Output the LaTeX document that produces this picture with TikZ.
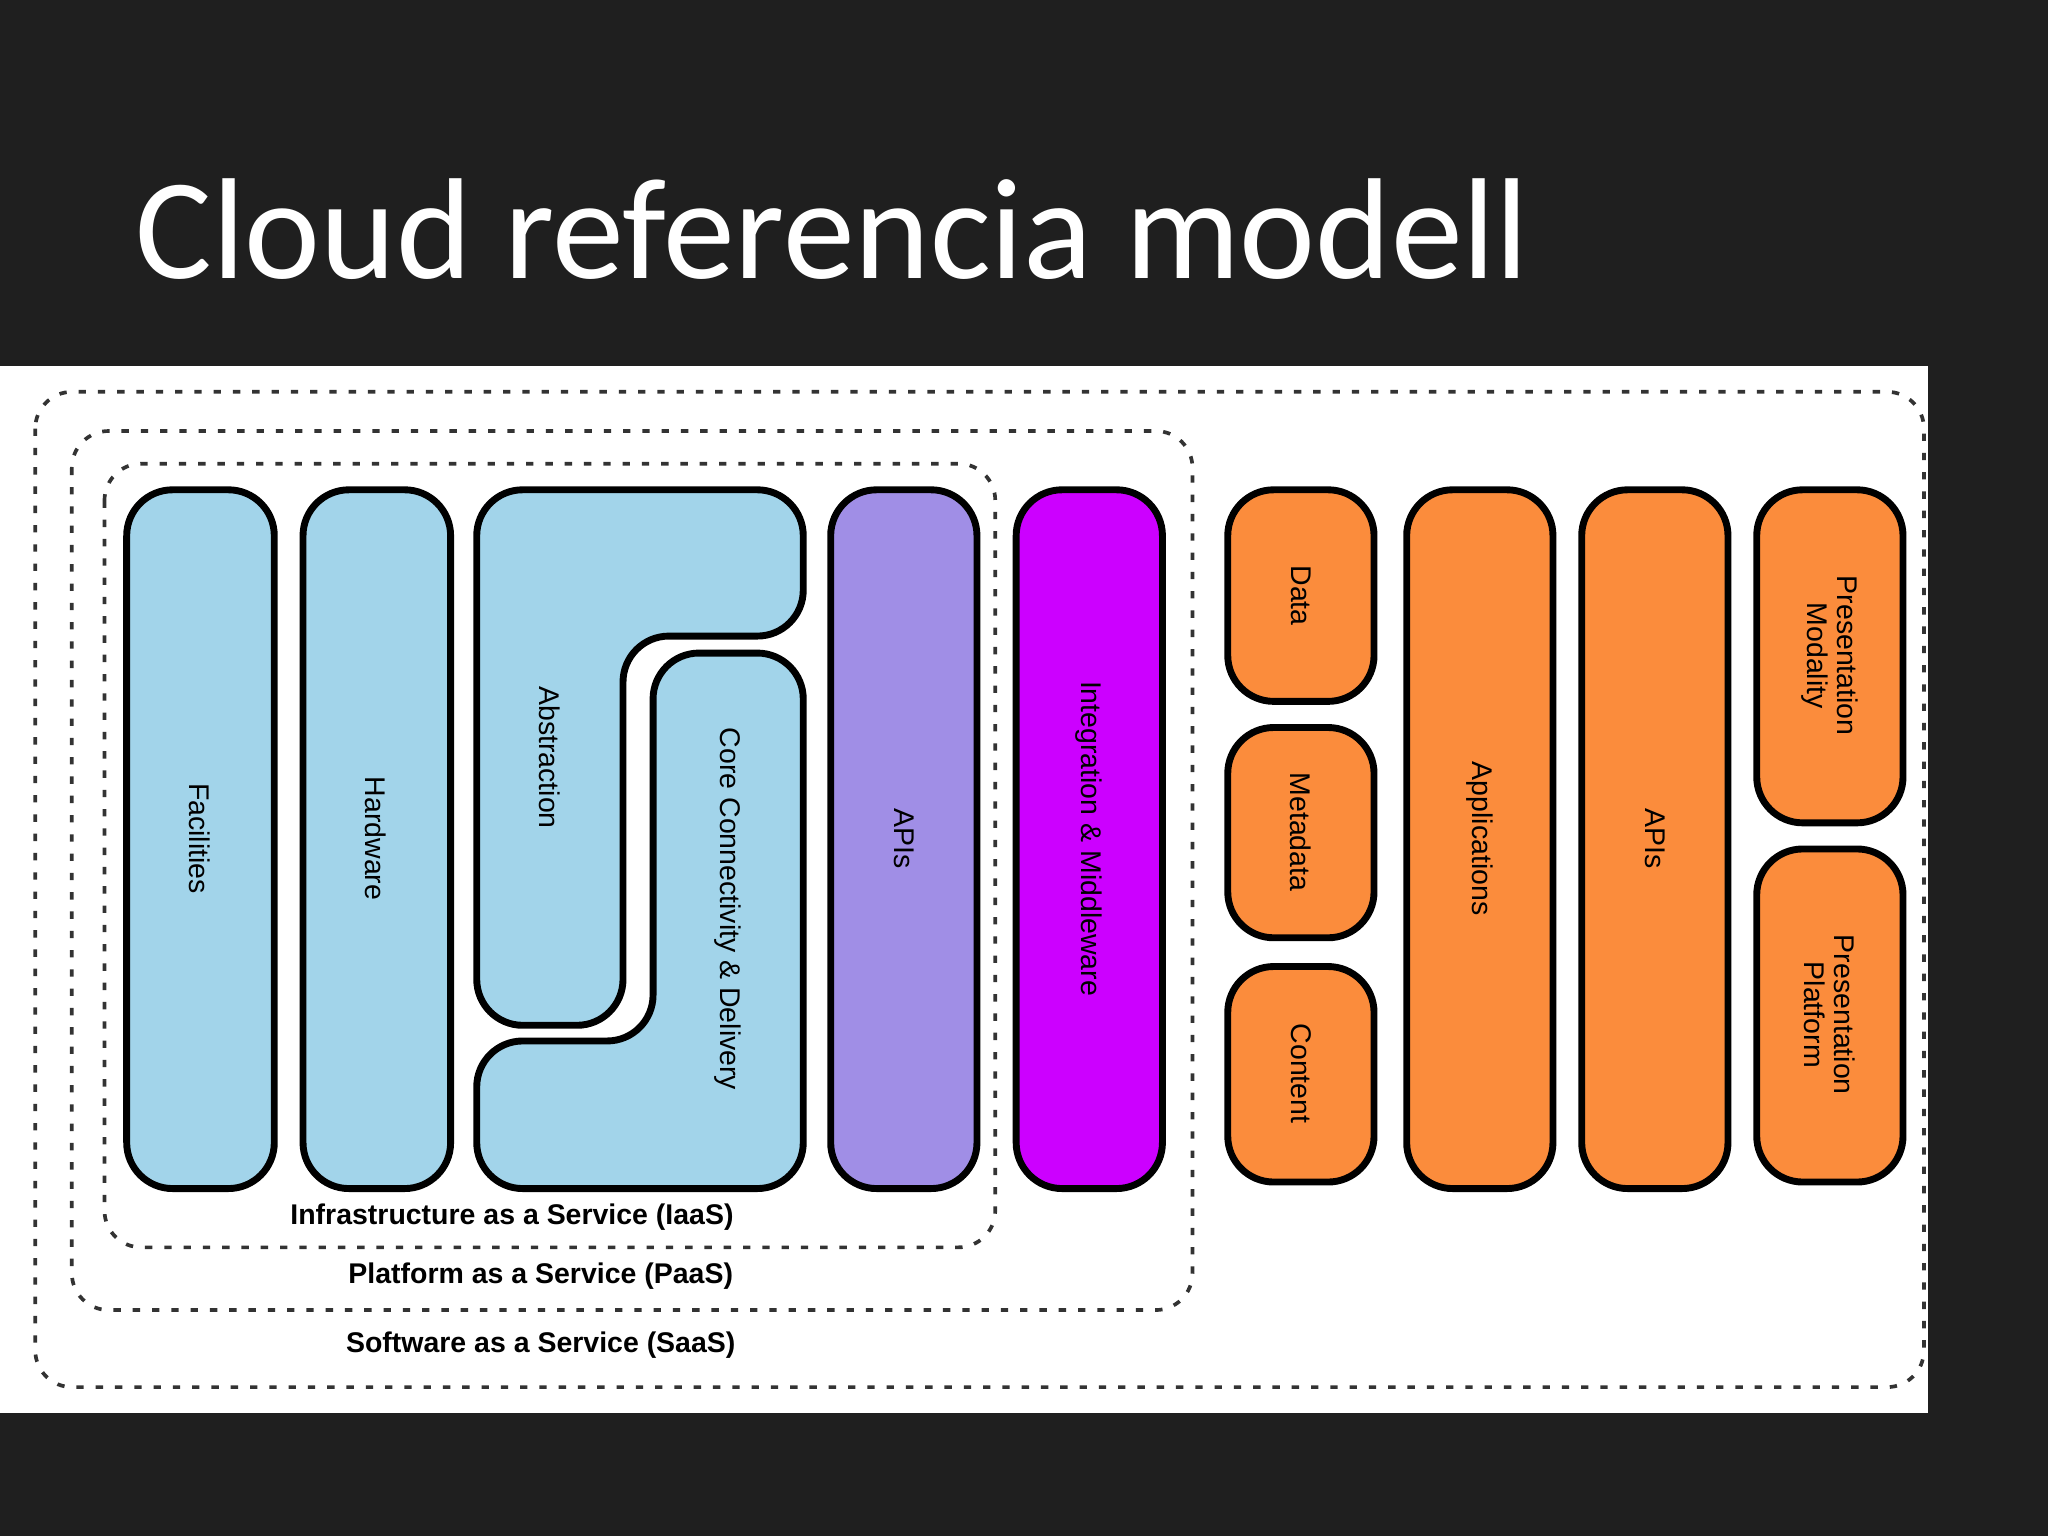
\documentclass[tikz,border=0pt]{standalone}
\usepackage{fontspec}
\setmainfont{Carlito}
\newfontfamily\arialf{Liberation Sans}
\begin{document}
\begin{tikzpicture}[x=0.01cm,y=-0.01cm,
  blk/.style={draw=black,line width=1.5pt,rounded corners=10},
  blue/.style={blk,fill=blueA},
  org/.style={blk,fill=orangeA},
  lab/.style={font=\arialf\fontsize{6.2}{6.6}\selectfont,rotate=-90,align=center},
  dots/.style={draw=black!80,line width=0.8pt,dash pattern=on 1.6pt off 2.6pt,rounded corners=8},
  tier/.style={font=\arialf\bfseries\fontsize{6.2}{6.6}\selectfont}]
\definecolor{blueA}{HTML}{A2D4EA}
\definecolor{orangeA}{HTML}{FB8C3C}
\definecolor{purpA}{HTML}{A08EE6}
\definecolor{magA}{HTML}{CC00FF}
\fill[black!88] (0,0) rectangle (1568,1176);
\useasboundingbox (0,0) rectangle (1568,1176);
\node[anchor=base west,text=white,font=\fontsize{31.3}{34}\selectfont,inner sep=0] (title) at (103,213) {Cloud referencia modell};
\fill[white] (0,280) rectangle (1476,1082);
\draw[dots] (27,300) rectangle (1473,1062);
\draw[dots] (55,330) rectangle (913,1003);
\draw[dots] (80,355) rectangle (762,955);
\node[tier] (iaas) at (392,932) {Infrastructure as a Service (IaaS)};
\node[tier] (paas) at (414,977) {Platform as a Service (PaaS)};
\node[tier] (saas) at (414,1030) {Software as a Service (SaaS)};
% blue blocks
\draw[blue] (97,375) rectangle (210,910);
\node[lab] (fac) at (153,642) {Facilities};
\draw[blue] (232,375) rectangle (345,910);
\node[lab] (hw) at (288,642) {Hardware};
\draw[blue] (365,375) -- (615,375) -- (615,487) -- (477,487) -- (477,785) -- (365,785) -- cycle;
\node[lab] (abs) at (421,580) {Abstraction};
\draw[blue] (500,500) -- (615,500) -- (615,910) -- (365,910) -- (365,797) -- (500,797) -- cycle;
\node[lab] (core) at (557,696) {Core Connectivity \& Delivery};
\draw[blk,fill=purpA] (636,375) rectangle (748,910);
\node[lab] (apis1) at (692,642) {APIs};
\draw[blk,fill=magA] (778,375) rectangle (890,910);
\node[lab] (int) at (834,642) {Integration \& Middleware};
% orange
\draw[org] (940,375) rectangle (1052,537);
\node[lab] (data) at (996,456) {Data};
\draw[org] (940,557) rectangle (1052,718);
\node[lab] (meta) at (996,637) {Metadata};
\draw[org] (940,740) rectangle (1052,905);
\node[lab] (cont) at (996,822) {Content};
\draw[org] (1077,375) rectangle (1189,910);
\node[lab] (app) at (1133,642) {Applications};
\draw[org] (1211,375) rectangle (1323,910);
\node[lab] (apis2) at (1267,642) {APIs};
\draw[org] (1345,375) rectangle (1457,630);
\node[lab] (pm) at (1401,502) {Presentation\\Modality};
\draw[org] (1345,650) rectangle (1457,905);
\node[lab] (pp) at (1401,777) {Presentation\\Platform};
\end{tikzpicture}
\end{document}
